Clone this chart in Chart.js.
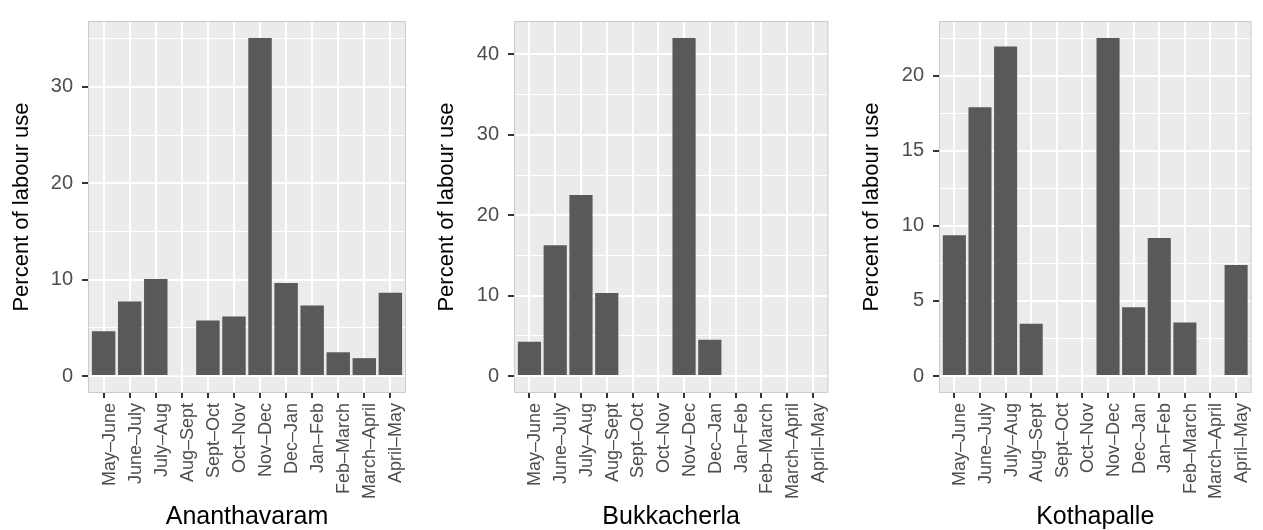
<!DOCTYPE html>
<html lang="en">
<head>
<meta charset="UTF-8">
<title>Percent of labour use by month</title>
<script src="https://cdn.jsdelivr.net/npm/chart.js@4.4.1/dist/chart.umd.min.js"></script>
<style>
    body {
        margin: 0;
        background: #fff;
        font-family: 'Liberation Sans', Arial, sans-serif;
    }
    #wrap {
        position: relative;
        width: 1263px;
        height: 530px;
        overflow: hidden;
    }
    canvas {
        position: absolute;
        top: 0;
    }
</style>
</head>
<body>
<div id="wrap">
    <canvas id="c1" width="420" height="530" style="left:0"></canvas>
    <canvas id="c2" width="420" height="530" style="left:420px"></canvas>
    <canvas id="c3" width="423" height="530" style="left:840px"></canvas>
</div>

<script>
    // Data
    const months = ['May–June', 'June–July', 'July–Aug', 'Aug–Sept', 'Sept–Oct', 'Oct–Nov',
                    'Nov–Dec', 'Dec–Jan', 'Jan–Feb', 'Feb–March', 'March–April', 'April–May'];
    const ananthavaram = [4.64, 7.73, 10.07, 0.1, 5.77, 6.19, 35.09, 9.66, 7.32, 2.47, 1.86, 8.66];
    const bukkacherla  = [4.28, 16.28, 22.53, 10.32, 0, 0, 42.05, 4.52, 0, 0, 0, 0];
    const kothapalle   = [9.37, 17.9, 21.94, 3.48, 0, 0, 22.51, 4.58, 9.19, 3.57, 0, 7.39];
    const villages = ['Ananthavaram', 'Bukkacherla', 'Kothapalle'];
    const majorSteps = [10, 10, 5];
    const yTitle = 'Percent of labour use';

    const FONT = "'Liberation Sans', Arial, sans-serif";

    // layout per panel: y-axis box width, right padding, y title offset
    const panels = [
        { id: 'c1', values: ananthavaram, yw: 88, rp: 14, tOff: 11 },
        { id: 'c2', values: bukkacherla,  yw: 94, rp: 11, tOff: 16 },
        { id: 'c3', values: kothapalle,   yw: 99, rp: 6,  tOff: 21 }
    ];

    // grey panel background and thin border, ggplot style
    const panelBg = {
        id: 'panelBg',
        beforeDraw(chart) {
            const { ctx, chartArea: a } = chart;
            ctx.save();
            ctx.fillStyle = '#ebebeb';
            ctx.fillRect(a.left, a.top, a.right - a.left, a.bottom - a.top);
            ctx.restore();
        },
        afterDraw(chart) {
            const { ctx, chartArea: a } = chart;
            ctx.save();
            ctx.strokeStyle = '#cccccc';
            ctx.lineWidth = 1;
            ctx.strokeRect(a.left + 0.5, a.top + 0.5, a.right - a.left - 1, a.bottom - a.top - 1);
            ctx.restore();
        }
    };

    panels.forEach((p, k) => {
        const major = majorSteps[k];
        const minor = major / 2;
        const peak = Math.max(...p.values);
        const yMin = -0.05 * peak;
        const yMax = 1.05 * peak;
        const isMajor = v => Math.abs(v / major - Math.round(v / major)) < 1e-6;

        new Chart(document.getElementById(p.id), {
            type: 'bar',
            data: {
                datasets: [{
                    data: months.map((m, i) => ({ x: i, y: p.values[i] })),
                    backgroundColor: '#595959',
                    borderWidth: 0,
                    barPercentage: 0.9,
                    categoryPercentage: 1
                }]
            },
            plugins: [panelBg],
            options: {
                responsive: false,
                animation: false,
                layout: { padding: { top: 18, right: p.rp, bottom: 0, left: 0 } },
                plugins: { legend: { display: false }, tooltip: { enabled: false } },
                scales: {
                    x: {
                        type: 'linear',
                        min: -0.6,
                        max: 11.6,
                        offset: false,
                        afterBuildTicks: s => { s.ticks = months.map((m, i) => ({ value: i })); },
                        afterFit: s => { s.height = 137; },
                        border: { display: false },
                        grid: {
                            offset: false,
                            color: '#ffffff',
                            lineWidth: 2,
                            tickColor: '#333333',
                            tickWidth: 2,
                            tickLength: 5
                        },
                        ticks: {
                            autoSkip: false,
                            maxRotation: 90,
                            minRotation: 90,
                            padding: 5,
                            labelOffset: 6,
                            color: '#4d4d4d',
                            font: { family: FONT, size: 18 },
                            callback: v => months[v]
                        },
                        title: {
                            display: true,
                            text: villages[k],
                            color: '#000000',
                            padding: { top: 0, bottom: 0 },
                            font: { family: FONT, size: 25, lineHeight: 1 }
                        }
                    },
                    y: {
                        min: yMin,
                        max: yMax,
                        afterBuildTicks: s => {
                            const t = [];
                            for (let v = 0; v <= yMax; v += minor) t.push({ value: v });
                            s.ticks = t;
                        },
                        afterFit: s => { s.width = p.yw; },
                        border: { display: false },
                        grid: {
                            color: '#ffffff',
                            lineWidth: c => (c.tick && isMajor(c.tick.value)) ? 2 : 1,
                            tickColor: c => (c.tick && isMajor(c.tick.value)) ? '#333333' : 'rgba(0,0,0,0)',
                            tickWidth: 2,
                            tickLength: 6
                        },
                        ticks: {
                            padding: 9,
                            color: '#4d4d4d',
                            font: { family: FONT, size: 20 },
                            callback: v => isMajor(v) ? String(v) : ''
                        },
                        title: {
                            display: true,
                            text: yTitle,
                            color: '#000000',
                            padding: { top: p.tOff, bottom: 0 },
                            font: { family: FONT, size: 22, lineHeight: 1 }
                        }
                    }
                }
            }
        });
    });
</script>
</body>
</html>
